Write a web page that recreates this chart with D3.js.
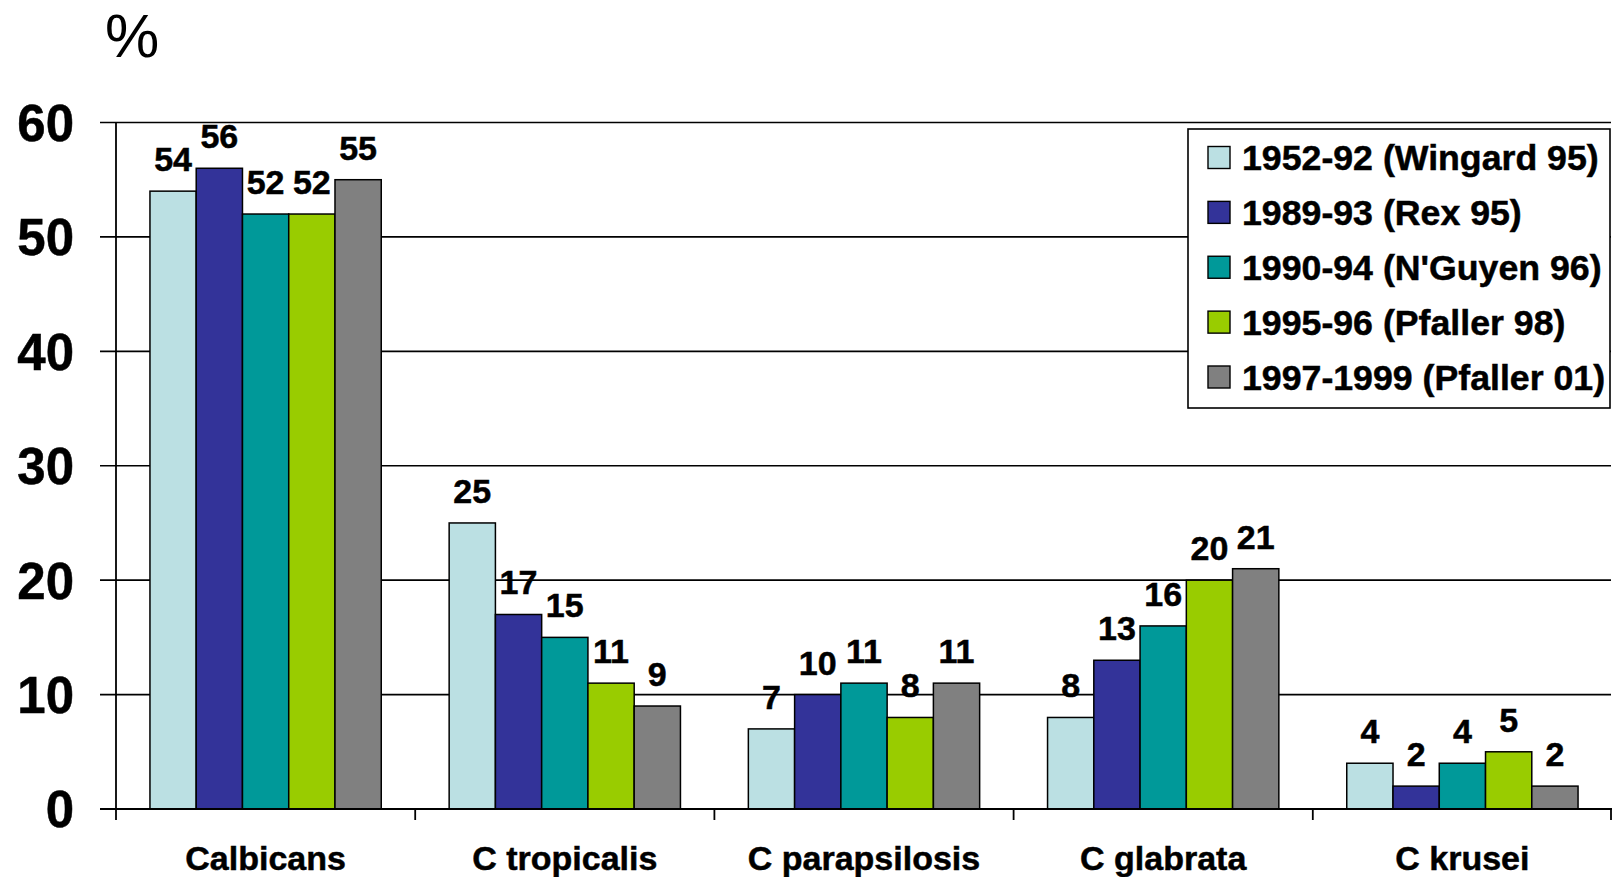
<!DOCTYPE html>
<html>
<head>
<meta charset="utf-8">
<script src="https://cdn.jsdelivr.net/npm/d3@7"></script>
<style>
  html, body { margin: 0; padding: 0; background: #fff; }
  svg { display: block; font-family: "Liberation Sans", Arial, sans-serif; }
  .bold { font-weight: bold; stroke: #000; stroke-width: 0.5px; }
</style>
</head>
<body>
<svg id="chart" width="1612" height="877"></svg>
<script>
// Species isolated in candidemia surveys, % of isolates per study period
const categories = ["Calbicans", "C tropicalis", "C parapsilosis", "C glabrata", "C krusei"];
const seriesNames = [
  "1952-92 (Wingard 95)",
  "1989-93 (Rex 95)",
  "1990-94 (N'Guyen 96)",
  "1995-96 (Pfaller 98)",
  "1997-1999 (Pfaller 01)"
];
const wingard95 = [54, 25, 7, 8, 4];
const rex95 = [56, 17, 10, 13, 2];
const nguyen96 = [52, 15, 11, 16, 4];
const pfaller98 = [52, 11, 8, 20, 5];
const pfaller01 = [55, 9, 11, 21, 2];
const seriesValues = [wingard95, rex95, nguyen96, pfaller98, pfaller01];
const colors = ["#BBE0E3", "#333399", "#009999", "#99CC00", "#808080"];
const yTicks = [0, 10, 20, 30, 40, 50, 60];

const svg = d3.select("#chart");
const plot = { left: 116, right: 1612, top: 122.5, bottom: 809 };

const y = d3.scaleLinear().domain([0, 60]).range([plot.bottom, plot.top]);
const x0 = d3.scaleBand().domain(categories).range([plot.left, plot.right]).padding(0);
const x1 = d3.scaleBand().domain(d3.range(seriesNames.length))
  .range([0, x0.bandwidth()]).paddingInner(0).paddingOuter(0.734);

// horizontal gridlines + left tick marks
svg.append("g").selectAll("line").data(yTicks).join("line")
  .attr("x1", plot.left - 16).attr("x2", plot.right - 1)
  .attr("y1", d => y(d)).attr("y2", d => y(d))
  .attr("stroke", "#000").attr("stroke-width", 1.6);

// y tick labels
svg.append("g").selectAll("text").data(yTicks).join("text")
  .attr("class", "bold")
  .attr("x", 74).attr("y", d => y(d))
  .attr("dy", "0.36em")
  .attr("text-anchor", "end")
  .attr("font-size", 51)
  .text(d => d);

// unit label
svg.append("text").attr("x", 105).attr("y", 57)
  .attr("font-size", 61).text("%");

// bars
const groups = svg.append("g").selectAll("g").data(categories).join("g")
  .attr("transform", c => `translate(${x0(c)},0)`);

groups.selectAll("rect")
  .data((c, ci) => seriesValues.map((vals, si) => ({ si, v: vals[ci] })))
  .join("rect")
  .attr("x", d => x1(d.si))
  .attr("width", x1.bandwidth())
  .attr("y", d => y(d.v))
  .attr("height", d => y(0) - y(d.v))
  .attr("fill", d => colors[d.si])
  .attr("stroke", "#000").attr("stroke-width", 1.5);

// value labels
groups.selectAll("text.val")
  .data((c, ci) => seriesValues.map((vals, si) => ({ si, v: vals[ci] })))
  .join("text")
  .attr("class", "val bold")
  .attr("x", d => x1(d.si) + x1.bandwidth() / 2)
  .attr("y", d => y(d.v) - 20)
  .attr("text-anchor", "middle")
  .attr("font-size", 34)
  .text(d => d.v);

// y axis line
svg.append("line")
  .attr("x1", plot.left).attr("x2", plot.left)
  .attr("y1", plot.top).attr("y2", plot.bottom)
  .attr("stroke", "#000").attr("stroke-width", 1.8);

// x axis line and category separators
svg.append("line")
  .attr("x1", plot.left - 16).attr("x2", plot.right)
  .attr("y1", plot.bottom).attr("y2", plot.bottom)
  .attr("stroke", "#000").attr("stroke-width", 1.8);

const sepX = categories.map(c => x0(c)).concat([plot.right - 1]);
svg.append("g").selectAll("line").data(sepX).join("line")
  .attr("x1", d => d).attr("x2", d => d)
  .attr("y1", plot.bottom).attr("y2", plot.bottom + 11)
  .attr("stroke", "#000").attr("stroke-width", 1.8);

// category labels
svg.append("g").selectAll("text").data(categories).join("text")
  .attr("class", "bold")
  .attr("x", c => x0(c) + x0.bandwidth() / 2)
  .attr("y", 870)
  .attr("text-anchor", "middle")
  .attr("font-size", 34)
  .text(c => c);

// legend
const legend = svg.append("g");
legend.append("rect")
  .attr("x", 1188).attr("y", 129)
  .attr("width", 422).attr("height", 279)
  .attr("fill", "#fff").attr("stroke", "#000").attr("stroke-width", 1.6);

const rowY = d3.scalePoint().domain(d3.range(seriesNames.length)).range([157.5, 377]);
const rows = legend.selectAll("g").data(seriesNames).join("g")
  .attr("transform", (d, i) => `translate(0,${rowY(i)})`);
rows.append("rect")
  .attr("x", 1208).attr("y", -11)
  .attr("width", 22).attr("height", 22)
  .attr("fill", (d, i) => colors[i])
  .attr("stroke", "#000").attr("stroke-width", 1.4);
rows.append("text")
  .attr("class", "bold")
  .attr("x", 1242).attr("y", 0).attr("dy", "0.36em")
  .attr("font-size", 35.7)
  .text(d => d);
</script>
</body>
</html>
